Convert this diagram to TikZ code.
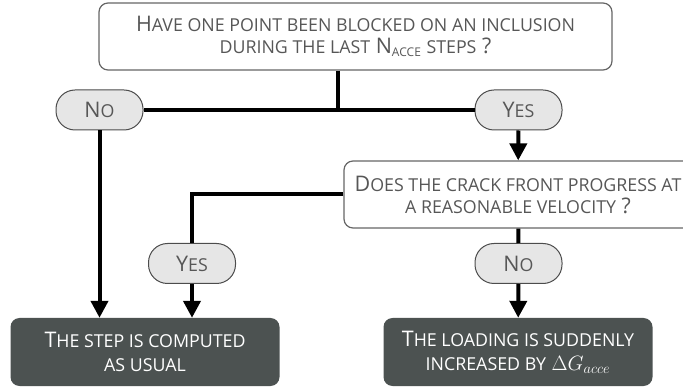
\documentclass[tikz,border=0pt]{standalone}
\usepackage{amsmath,amssymb}
\usepackage{fontspec}
\setmainfont{Open Sans}
\usetikzlibrary{arrows.meta}

\definecolor{boxtext}{HTML}{575757}
\definecolor{pillfill}{HTML}{E6E6E6}
\definecolor{resultfill}{HTML}{4C5251}
\newcommand\scs[1]{{\fontsize{17.8}{22}\selectfont\MakeUppercase{#1}}}
\newcommand\subsc[1]{\raisebox{-2.5pt}{\fontsize{12}{12}\selectfont #1}}

\begin{document}
\begin{tikzpicture}[x=1pt,y=-1pt,
    question/.style={draw=gray!80!black,line width=1.2pt,fill=white,rounded corners=9pt,
      text=boxtext,align=center,font=\fontsize{21.5}{22}\selectfont,minimum height=67pt},
    pill/.style={draw=black!70,line width=1pt,fill=pillfill,rounded corners=19pt,
      text=boxtext,font=\fontsize{21.5}{22}\selectfont,minimum width=87pt,minimum height=40pt},
    result/.style={fill=resultfill,rounded corners=9pt,text=white,align=center,
      font=\fontsize{21.5}{24}\selectfont,minimum width=269pt,minimum height=68pt},
    line/.style={line width=4pt},
    arrow/.style={line width=4pt,-{Triangle[length=17pt,width=17pt]}}]
      \useasboundingbox (0,0) rectangle (683,387);
      \node[question,minimum width=513pt] (blocked) at (355.5,36.5)
        {H\scs{ave one point been blocked on an inclusion}\\
         \scs{during the last} N\subsc{ACCE} \scs{steps} ?};
      \node[pill] (no1) at (99.5,110) {N\scs{o}};
      \node[pill] (yes1) at (518.5,110) {Y\scs{es}};
      \node[question,minimum width=348pt] (crack) at (518,194.5)
        {D\scs{oes the crack front progress at}\\ \scs{a reasonable velocity} ?};
      \node[pill] (yes2) at (192,263.5) {Y\scs{es}};
      \node[pill] (no2) at (518.5,263.5) {N\scs{o}};
      \node[result] (usual) at (145,352) {T\scs{he step is computed}\\ \scs{as usual}};
      \node[result] (increase) at (518,352)
        {T\scs{he loading is suddenly}\\ \scs{increased by} $\Delta G_{acce}$};
      \coordinate (split) at (338,110);
      \draw[line] (blocked.south -| split) -- (split);
      \draw[line] (no1) -- (yes1);
      \draw[arrow] (yes1) -- (crack);
      \draw[line] (crack.west) -| (yes2.north);
      \draw[line] (crack) -- (no2);
      \draw[arrow] (no1) -- (no1 |- usual.north);
      \draw[arrow] (yes2) -- (yes2 |- usual.north);
      \draw[arrow] (no2) -- (increase);
\end{tikzpicture}
\end{document}
